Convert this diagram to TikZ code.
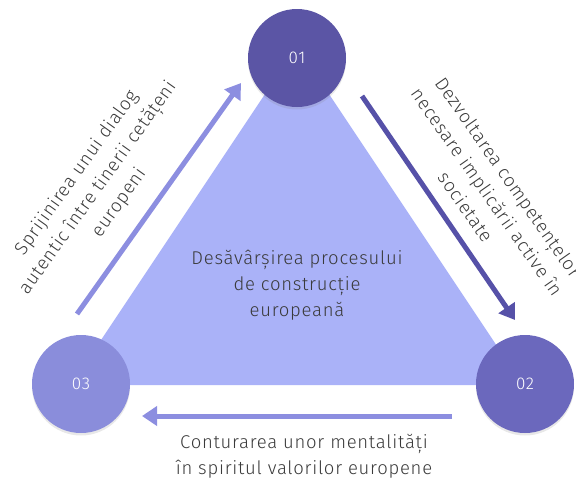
\documentclass[tikz,border=0pt]{standalone}
\usepackage{fontspec}
\setmainfont{Fira Sans}[UprightFont=* Light, LetterSpace=4]
\usetikzlibrary{positioning,shadows,arrows.meta}
\definecolor{trifill}{HTML}{AAB2F8}
\definecolor{stepone}{HTML}{5B55A5}
\definecolor{steptwo}{HTML}{6B68BD}
\definecolor{stepthree}{HTML}{8A8DDB}
\definecolor{arrowlight}{HTML}{8C8EE0}
\definecolor{arrowdark}{HTML}{5651A8}
\definecolor{textgray}{HTML}{3A3A3A}
\tikzset{
    % cercurile numerotate
    stepcircle/.style={circle, minimum size=98pt, inner sep=0pt,
                       text=white, font=\fontsize{17}{19}\selectfont,
                       drop shadow={opacity=0.18, shadow xshift=0pt, shadow yshift=-2.5pt}},
    % sagetile dintre cercuri
    cyclearrow/.style={line width=5pt,
                       -{Triangle[length=15pt, width=19pt]}},
    % etichetele sagetilor
    steplabel/.style={align=center, text=textgray,
                      font=\fontsize{18.5}{26}\selectfont}
}
\begin{document}
\begin{tikzpicture}[x=1pt, y=-1pt]
  \useasboundingbox (0,0) rectangle (576,483);
  % triunghiul central
  \fill[trifill] (297,46) -- (523,385) -- (71,385) -- cycle;
  \node[steplabel] (centre) at (297,285)
      {Desăvârșirea procesului\\de construcție\\europeană};

  % cercuri
  \node[stepcircle, fill=stepone] (one) at (297,58) {01};
  \node[stepcircle, fill=steptwo] (two) at (525,384) {02};
  \node[stepcircle, fill=stepthree] (three) at (81,384) {03};

  % capetele sagetilor
  \coordinate (leftstart) at (77,314);
  \coordinate (lefttip) at (241,83);
  \coordinate (rightstart) at (362,96);
  \coordinate (righttip) at (515,320);
  \coordinate (bottomstart) at (452,416);
  \coordinate (bottomtip) at (142,416);

  \draw[cyclearrow, arrowlight] (leftstart) -- (lefttip);
  \draw[cyclearrow, arrowdark] (rightstart) -- (righttip);
  \draw[cyclearrow, arrowlight] (bottomstart) -- (bottomtip);

  % texte
  \node[steplabel, rotate=54.5] (leftlabel) at (98,188)
      {Sprijinirea unui dialog\\autentic între tinerii cetățeni\\europeni};
  \node[steplabel, rotate=-55] (rightlabel) at (487,192)
      {Dezvoltarea competențelor\\necesare implicării active în\\societate};
  \node[steplabel] (bottomlabel) at (304,456)
      {Conturarea unor mentalități\\în spiritul valorilor europene};
\end{tikzpicture}
\end{document}
